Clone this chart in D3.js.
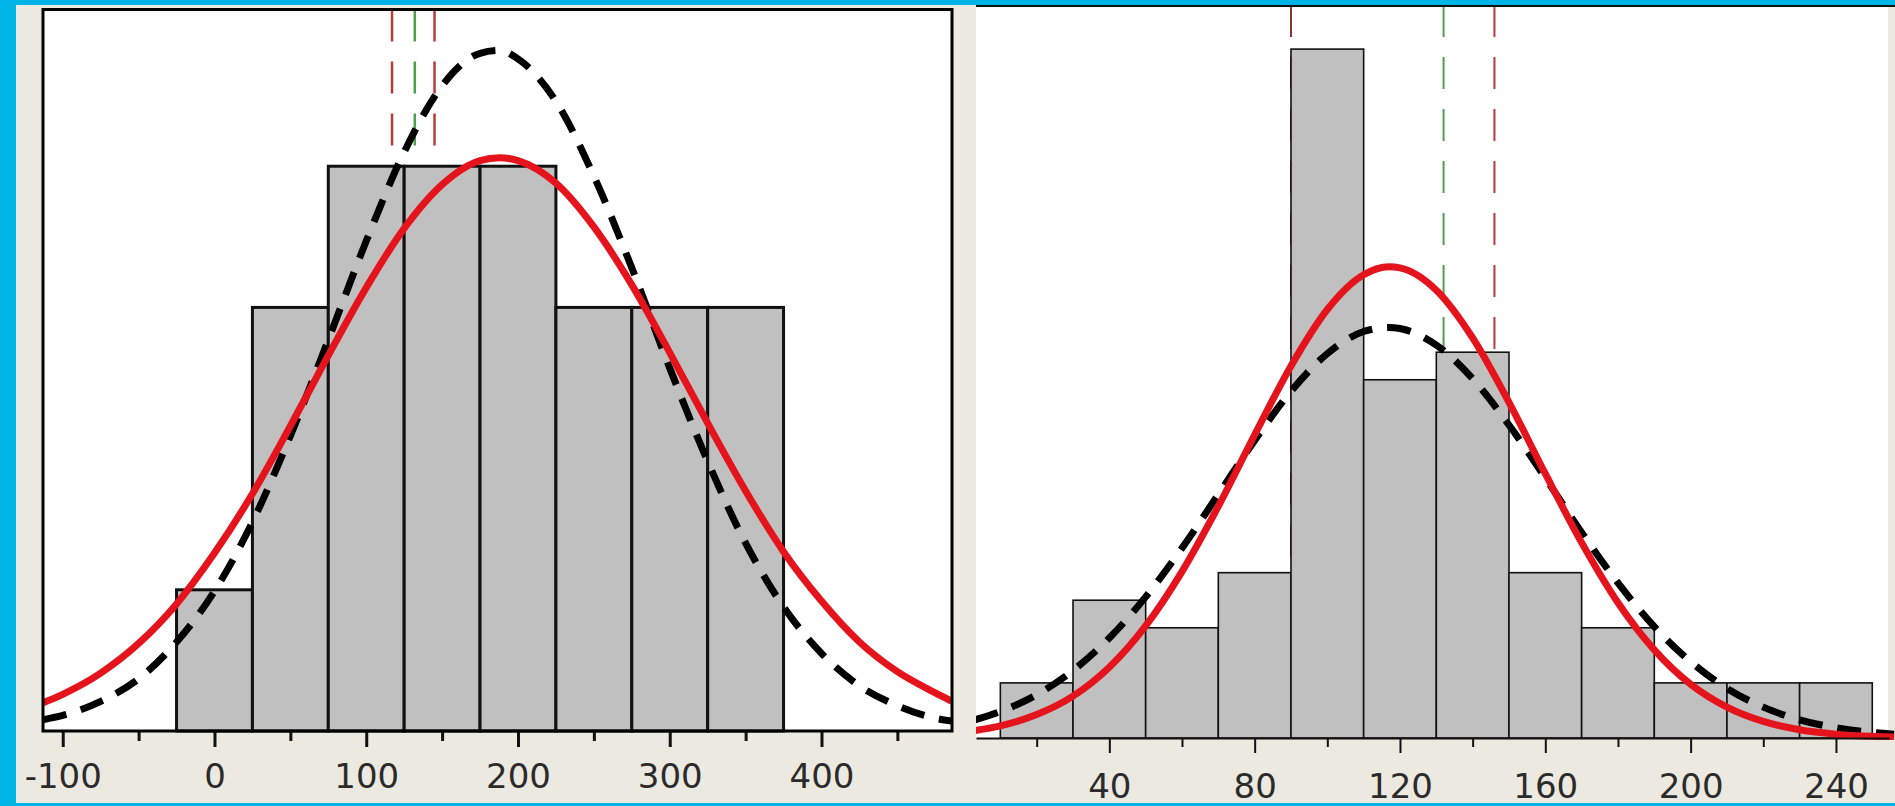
<!DOCTYPE html>
<html lang="en">
<head>
    <meta charset="UTF-8">
    <title>Histograms with normal fits</title>
    <script src="https://d3js.org/d3.v7.min.js"></script>
    <style>
        body { margin: 0; background: #00b5e5; }
        svg { display: block; }
    </style>
</head>
<body>
    <div id="chart"></div>
    <script>
        // Left histogram: bin edges, counts, ticks, marker lines
        const leftEdges = [-25, 25, 75, 125, 175, 225, 275, 325, 375];
        const leftCounts = [1, 3, 4, 4, 4, 3, 3, 3];
        const leftMajorTicks = [-100, 0, 100, 200, 300, 400];
        const leftMinorTicks = [-50, 50, 150, 250, 350, 450];
        const leftMarkers = [117, 132, 145];
        const leftMarkerColors = ["#b43c3c", "#4f9f4f", "#b43c3c"];

        // Left fitted curves (x value, count)
        const leftCurveX = [-113, -100, -75, -50, -25, 0, 25, 50, 75, 100, 125, 150, 175, 188,
                            200, 225, 250, 275, 300, 325, 350, 375, 400, 425, 450, 475, 486];
        const leftRedY = [0.20, 0.26, 0.41, 0.62, 0.90, 1.26, 1.68, 2.16, 2.66, 3.14, 3.56, 3.87, 4.04, 4.06,
                          4.04, 3.88, 3.57, 3.16, 2.68, 2.18, 1.70, 1.27, 0.92, 0.63, 0.42, 0.27, 0.21];
        const leftBlackY = [0.08, 0.11, 0.21, 0.37, 0.63, 0.99, 1.48, 2.09, 2.77, 3.47, 4.10, 4.57, 4.80, 4.82,
                            4.76, 4.46, 3.93, 3.28, 2.57, 1.91, 1.33, 0.88, 0.55, 0.32, 0.18, 0.09, 0.07];

        // Right histogram
        const rightEdges = [10, 30, 50, 70, 90, 110, 130, 150, 170, 190, 210, 230, 250];
        const rightCounts = [2, 5, 4, 6, 25, 13, 14, 6, 4, 2, 2, 2];
        const rightMajorTicks = [40, 80, 120, 160, 200, 240];
        const rightMinorTicks = [20, 60, 100, 140, 180, 220];
        const rightMarkers = [90, 132, 146];
        const rightMarkerColors = ["#8c3434", "#4f9f4f", "#b43c3c"];

        const rightCurveX = [3, 10, 20, 30, 40, 50, 60, 70, 80, 90, 100, 110, 117, 120,
                             130, 140, 150, 160, 170, 180, 190, 200, 210, 220, 230, 240, 250, 256];
        const rightRedY = [0.27, 0.44, 0.85, 1.52, 2.57, 4.07, 6.04, 8.41, 11.00, 13.50, 15.55, 16.81, 17.10, 17.06,
                           16.25, 14.52, 12.18, 9.59, 7.09, 4.91, 3.20, 1.95, 1.12, 0.60, 0.30, 0.14, 0.06, 0.04];
        const rightBlackY = [0.66, 0.96, 1.57, 2.45, 3.63, 5.12, 6.89, 8.84, 10.80, 12.58, 13.95, 14.75, 14.90, 14.86,
                             14.26, 13.04, 11.36, 9.44, 7.46, 5.63, 4.04, 2.77, 1.80, 1.12, 0.66, 0.37, 0.20, 0.14];

        const svg = d3.select("#chart").append("svg")
            .attr("width", 1895)
            .attr("height", 806);

        // grey window background behind both plots
        svg.append("rect")
            .attr("x", 16).attr("y", 5)
            .attr("width", 1879).attr("height", 798)
            .attr("fill", "#ece9e1");

        function drawPanel(p) {
            const x = d3.scaleLinear().domain(p.xDomain).range([p.left, p.right]);
            const y = d3.scaleLinear().domain([0, p.yMax]).range([p.bottom, p.top]);
            const g = svg.append("g");

            g.append("rect")
                .attr("x", p.left).attr("y", p.top)
                .attr("width", p.bgRight - p.left).attr("height", p.bottom - p.top)
                .attr("fill", "#fff");

            g.append("clipPath").attr("id", p.id + "-clip")
                .append("rect")
                .attr("x", p.left).attr("y", 0)
                .attr("width", p.clipRight - p.left).attr("height", p.bottom + 2);

            // dashed marker lines (behind the bars)
            g.selectAll(".marker")
                .data(p.markers)
                .join("line")
                .attr("x1", d => x(d)).attr("x2", d => x(d))
                .attr("y1", p.top).attr("y2", p.bottom)
                .attr("stroke", (d, i) => p.markerColors[i])
                .attr("stroke-width", p.markerWidth)
                .attr("stroke-dasharray", "32,20");

            // bars
            const bins = p.counts.map((c, i) => ({x0: p.edges[i], x1: p.edges[i + 1], n: c}));
            g.selectAll(".bar")
                .data(bins)
                .join("rect")
                .attr("x", d => x(d.x0))
                .attr("y", d => y(d.n))
                .attr("width", d => x(d.x1) - x(d.x0))
                .attr("height", d => y(0) - y(d.n))
                .attr("fill", "#c0c0c0")
                .attr("stroke", "#111")
                .attr("stroke-width", p.barStroke);

            // fitted curves
            const line = d3.line()
                .x(d => x(d[0]))
                .y(d => y(d[1]))
                .curve(d3.curveMonotoneX);
            const curves = g.append("g").attr("clip-path", `url(#${p.id}-clip)`);
            curves.append("path")
                .datum(p.curveX.map((v, i) => [v, p.blackY[i]]))
                .attr("d", line)
                .attr("fill", "none")
                .attr("stroke", "#000")
                .attr("stroke-width", 7)
                .attr("stroke-dasharray", "24,15");
            curves.append("path")
                .datum(p.curveX.map((v, i) => [v, p.redY[i]]))
                .attr("d", line)
                .attr("fill", "none")
                .attr("stroke", "#e5141c")
                .attr("stroke-width", 7);

            // axes: labelled major ticks plus short minor ticks
            const major = g.append("g")
                .attr("transform", `translate(0,${p.bottom})`)
                .call(d3.axisBottom(x)
                    .tickValues(p.majorTicks)
                    .tickSize(p.tickLen)
                    .tickPadding(p.tickPad)
                    .tickSizeOuter(0)
                    .tickFormat(d => String(d)));
            major.selectAll(".tick line").attr("stroke", "#111").attr("stroke-width", p.tickWidth);
            major.selectAll(".tick text")
                .attr("font-family", "'DejaVu Sans', Verdana, sans-serif")
                .attr("font-size", 34)
                .attr("fill", "#2b2b2b");
            major.select(".domain").attr("stroke", "#111").attr("stroke-width", p.domainWidth);

            const minor = g.append("g")
                .attr("transform", `translate(0,${p.bottom})`)
                .call(d3.axisBottom(x)
                    .tickValues(p.minorTicks)
                    .tickSize(p.minorLen)
                    .tickSizeOuter(0)
                    .tickFormat(""));
            minor.select(".domain").remove();
            minor.selectAll(".tick line").attr("stroke", "#111").attr("stroke-width", p.tickWidth);

            return g;
        }

        const left = drawPanel({
            id: "left", xDomain: [-113, 486], left: 43, right: 952, bgRight: 952, clipRight: 952,
            top: 9.5, bottom: 731, yMax: 5.11,
            edges: leftEdges, counts: leftCounts,
            markers: leftMarkers, markerColors: leftMarkerColors, markerWidth: 2.5,
            curveX: leftCurveX, redY: leftRedY, blackY: leftBlackY,
            majorTicks: leftMajorTicks, minorTicks: leftMinorTicks,
            barStroke: 3, tickLen: 16, minorLen: 10, tickPad: 17, tickWidth: 3, domainWidth: 0
        });
        // black frame around the left plot
        left.append("rect")
            .attr("x", 43).attr("y", 9.5)
            .attr("width", 909).attr("height", 721.5)
            .attr("fill", "none")
            .attr("stroke", "#000")
            .attr("stroke-width", 3);

        const right = drawPanel({
            id: "right", xDomain: [3.3, 254.6], left: 976, right: 1889, bgRight: 1888, clipRight: 1895,
            top: 5, bottom: 738, yMax: 26.6,
            edges: rightEdges, counts: rightCounts,
            markers: rightMarkers, markerColors: rightMarkerColors, markerWidth: 2,
            curveX: rightCurveX, redY: rightRedY, blackY: rightBlackY,
            majorTicks: rightMajorTicks, minorTicks: rightMinorTicks,
            barStroke: 1.6, tickLen: 15, minorLen: 9, tickPad: 21, tickWidth: 2, domainWidth: 2
        });
        right.append("line")
            .attr("x1", 976).attr("x2", 1895)
            .attr("y1", 6).attr("y2", 6)
            .attr("stroke", "#111")
            .attr("stroke-width", 2);
    </script>
</body>
</html>
